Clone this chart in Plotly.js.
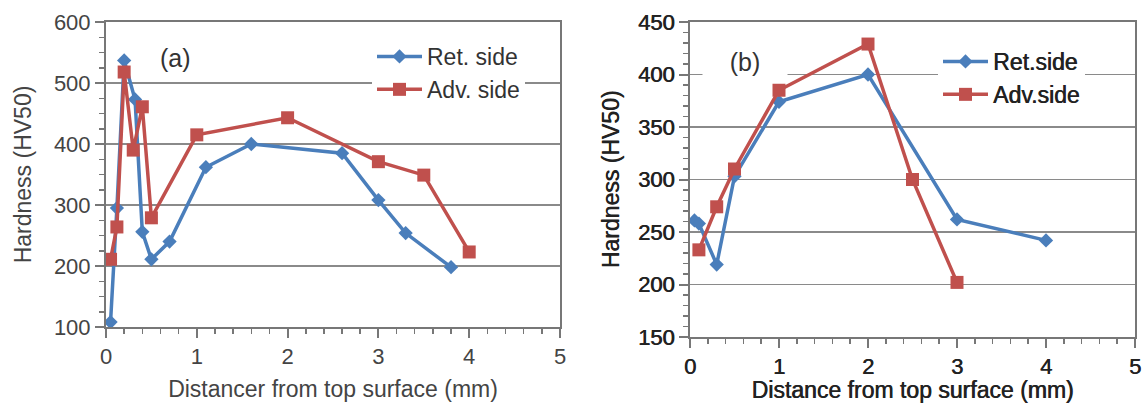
<!DOCTYPE html>
<html>
<head>
<meta charset="utf-8">
<script src="https://cdn.plot.ly/plotly-3.0.1.min.js"></script>
<style>html,body{margin:0;padding:0;background:#fff;}#chart{width:1147px;height:403px;}</style>
</head>
<body>
<div id="chart"></div>
<script>
// Panel (a)
const aRetX = [0.05, 0.12, 0.2, 0.32, 0.4, 0.5, 0.7, 1.1, 1.6, 2.6, 3.0, 3.3, 3.8];
const aRetY = [108, 295, 537, 473, 256, 211, 240, 362, 400, 385, 308, 254, 198];
const aAdvX = [0.05, 0.12, 0.2, 0.3, 0.4, 0.5, 1.0, 2.0, 3.0, 3.5, 4.0];
const aAdvY = [211, 264, 518, 390, 461, 279, 415, 443, 371, 349, 223];
// Panel (b)
const bRetX = [0.05, 0.1, 0.3, 0.5, 1.0, 2.0, 3.0, 4.0];
const bRetY = [261, 258, 219, 303, 374, 400, 262, 242];
const bAdvX = [0.1, 0.3, 0.5, 1.0, 2.0, 2.5, 3.0];
const bAdvY = [233, 274, 310, 385, 429, 300, 202];

const aNames = ["Ret. side", "Adv. side"];
const bNames = ["Ret.side", "Adv.side"];
const aXTitle = "Distancer from top surface (mm)";
const bXTitle = "Distance from top surface (mm)";
const yTitle = "Hardness (HV50)";
const panelLabels = ["(a)", "(b)"];

const BLUE = "#4a7ebb", RED = "#c0504d";
const FONT = "Liberation Sans, Arial, sans-serif";
const SEMI = "0.6px 0 0 #222";

function tr(x, y, name, color, symbol, size, xa, ya, legend) {
  return {x: x, y: y, name: name, type: "scatter", mode: "lines+markers",
    xaxis: xa, yaxis: ya, legend: legend,
    line: {color: color, width: 3.5},
    marker: {color: color, symbol: symbol, size: size}};
}

const data = [
  tr(aRetX, aRetY, aNames[0], BLUE, "diamond", 11, "x", "y", "legend"),
  tr(aAdvX, aAdvY, aNames[1], RED, "square", 13, "x", "y", "legend"),
  tr(bRetX, bRetY, bNames[0], BLUE, "diamond", 11, "x2", "y2", "legend2"),
  tr(bAdvX, bAdvY, bNames[1], RED, "square", 13, "x2", "y2", "legend2")
];

function fnt(size, col, shadow) {
  const f = {family: FONT, size: size, color: col};
  if (shadow) f.shadow = shadow;
  return f;
}

function xax(domain, title, anchor, col, shadow, standoff) {
  return {domain: domain, anchor: anchor, range: [0, 5], dtick: 1, tick0: 0,
    showgrid: false, zeroline: false, showline: true, mirror: true,
    linecolor: "#777", linewidth: 2, ticks: "outside", ticklen: 9, tickwidth: 2, tickcolor: "#777",
    minor: {dtick: 0.2, ticks: "outside", ticklen: 5, tickwidth: 1.5, tickcolor: "#777"},
    tickfont: fnt(22, col, shadow),
    title: {text: title, font: fnt(23, col, shadow), standoff: standoff},
    automargin: false, fixedrange: true};
}
function yax(domain, range, dtick, minor, anchor, col, shadow, standoff) {
  return {domain: domain, anchor: anchor, range: range, dtick: dtick, tick0: 0,
    showgrid: true, gridcolor: "#8a8a8a", gridwidth: 1.5, zeroline: false,
    showline: true, mirror: true, linecolor: "#777", linewidth: 2,
    ticks: "outside", ticklen: 9, tickwidth: 2, tickcolor: "#777",
    minor: {dtick: minor, ticks: "outside", ticklen: 5, tickwidth: 1.5, tickcolor: "#777"},
    tickfont: fnt(22, col, shadow),
    title: {text: yTitle, font: fnt(23, col, shadow), standoff: standoff},
    automargin: false, fixedrange: true};
}

const W = 1147, H = 403;
const layout = {
  width: W, height: H,
  margin: {l: 0, r: 0, t: 0, b: 0},
  paper_bgcolor: "#fff", plot_bgcolor: "#fff",
  showlegend: true,
  xaxis: xax([106 / W, 560 / W], aXTitle, "y", "#444", null, 12),
  yaxis: yax([1 - 327 / H, 1 - 22 / H], [100, 600], 100, 25, "x", "#444", null, 16),
  xaxis2: xax([690 / W, 1135 / W], bXTitle, "y2", "#222", SEMI, 4),
  yaxis2: yax([1 - 337 / H, 1 - 22 / H], [150, 450], 50, 10, "x2", "#222", SEMI, 12),
  legend: {x: 372 / W, y: 1 - 35 / H, xanchor: "left", yanchor: "top",
    bgcolor: "#fff", borderwidth: 0, font: fnt(23, "#333"),
    itemwidth: 45, tracegroupgap: 0},
  legend2: {x: 938 / W, y: 1 - 40 / H, xanchor: "left", yanchor: "top",
    bgcolor: "#fff", borderwidth: 0, font: fnt(23, "#222", SEMI),
    itemwidth: 45, tracegroupgap: 0},
  annotations: [
    {text: panelLabels[0], xref: "paper", yref: "paper", x: 175 / W, y: 1 - 58 / H,
      xanchor: "center", yanchor: "middle", showarrow: false,
      font: fnt(25, "#333")},
    {text: panelLabels[1], xref: "paper", yref: "paper", x: 745 / W, y: 1 - 62 / H,
      xanchor: "center", yanchor: "middle", showarrow: false, bgcolor: "#fff",
      width: 82, height: 30, align: "center",
      font: fnt(25, "#333")}
  ]
};

Plotly.newPlot("chart", data, layout, {displayModeBar: false, staticPlot: true});
</script>
</body>
</html>
